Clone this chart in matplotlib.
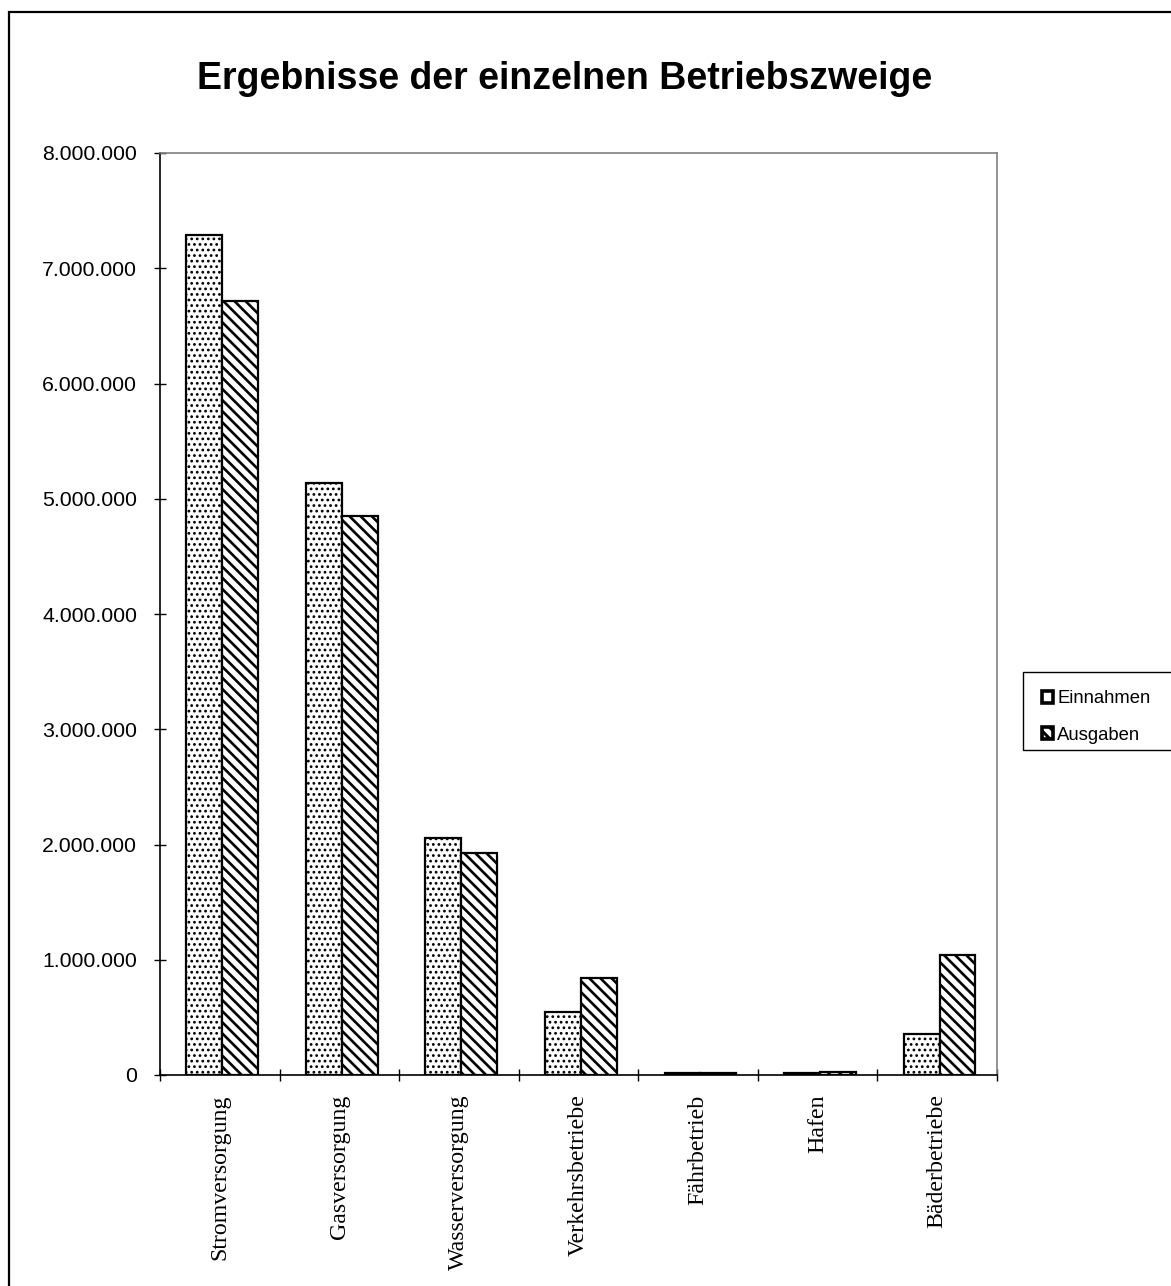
import matplotlib.pyplot as plt
import matplotlib as mpl
import numpy as np
from matplotlib.patches import Rectangle, Patch
from matplotlib.ticker import FuncFormatter

# Betriebszweige und Ergebnisse (EUR)
zweige = [
    "Stromversorgung",
    "Gasversorgung",
    "Wasserversorgung",
    "Verkehrsbetriebe",
    "Fährbetrieb",
    "Hafen",
    "Bäderbetriebe",
]
einnahmen = [7290000, 5135000, 2055000, 550000, 20000, 15000, 355000]
ausgaben = [6715000, 4850000, 1925000, 840000, 20000, 30000, 1045000]

W, H = 1171, 1286
fig = plt.figure(figsize=(W / 100, H / 100), dpi=100)

# Rahmen um das ganze Diagramm (rechts/unten abgeschnitten)
fig.patches.append(Rectangle((8.5 / W, -0.05), 1.2, 1 - 12 / H + 0.05,
                             transform=fig.transFigure, fill=False,
                             edgecolor="black", linewidth=1.6))

ax = fig.add_axes([160 / W, 211 / H, (997 - 160) / W, (1075 - 153) / H])

x = np.arange(len(zweige))
bw = 0.3
with mpl.rc_context({"hatch.linewidth": 1.2}):
    b1 = ax.bar(x - bw / 2 + 0.02, einnahmen, bw, color="white",
                edgecolor="black", linewidth=1.6, hatch="...", label="Einnahmen")
with mpl.rc_context({"hatch.linewidth": 1.9}):
    b2 = ax.bar(x + bw / 2 + 0.02, ausgaben, bw, color="white",
                edgecolor="black", linewidth=1.6, hatch="\\\\\\", label="Ausgaben")

ax.set_xlim(-0.5, len(zweige) - 0.5)
ax.set_ylim(0, 8000000)
ax.set_yticks(np.arange(0, 8000001, 1000000))
ax.yaxis.set_major_formatter(FuncFormatter(lambda v, p: f"{int(v):,}".replace(",", ".")))

ax.set_xticks(x)
ax.set_xticklabels(zweige, rotation=90, family="Liberation Serif", fontsize=17.2, va="top")
ax.set_xticks(np.arange(-0.5, len(zweige)), minor=True)
ax.tick_params(axis="x", which="major", length=0, pad=14)
ax.tick_params(axis="x", which="minor", length=9, direction="inout", width=1)
ax.tick_params(axis="y", length=9, direction="inout", width=1, pad=12)
for lab in ax.get_yticklabels():
    lab.set_family("Liberation Sans")
    lab.set_fontsize(15.3)

for s in ("top", "right"):
    ax.spines[s].set_color("#808080")
    ax.spines[s].set_linewidth(1.2)
for s in ("left", "bottom"):
    ax.spines[s].set_color("black")
    ax.spines[s].set_linewidth(1.2)

fig.text(565 / W, 1 - 79 / H, "Ergebnisse der einzelnen Betriebszweige",
         ha="center", va="center", family="Liberation Sans",
         fontsize=27, fontweight="bold")

# Legende mit eigenem Rahmen
fig.patches.append(Rectangle((1023 / W, 1 - 750 / H), 200 / W, 78 / H,
                             transform=fig.transFigure, fill=False,
                             edgecolor="black", linewidth=1.0))
with mpl.rc_context({"hatch.linewidth": 2.2}):
    handles = [
        Patch(facecolor="white", edgecolor="black", linewidth=2.6, label="Einnahmen"),
        Patch(facecolor="white", edgecolor="black", linewidth=2.6,
              hatch="\\\\\\", label="Ausgaben"),
    ]
    leg = fig.legend(handles=handles, loc="center left",
                     bbox_to_anchor=(1042 / W, 1 - 717 / H), frameon=False,
                     prop={"family": "Liberation Sans", "size": 13.3},
                     handlelength=0.62, handleheight=0.62, handletextpad=0.2,
                     labelspacing=1.05, borderpad=0, borderaxespad=0)

fig.savefig("out.png", dpi=100)
